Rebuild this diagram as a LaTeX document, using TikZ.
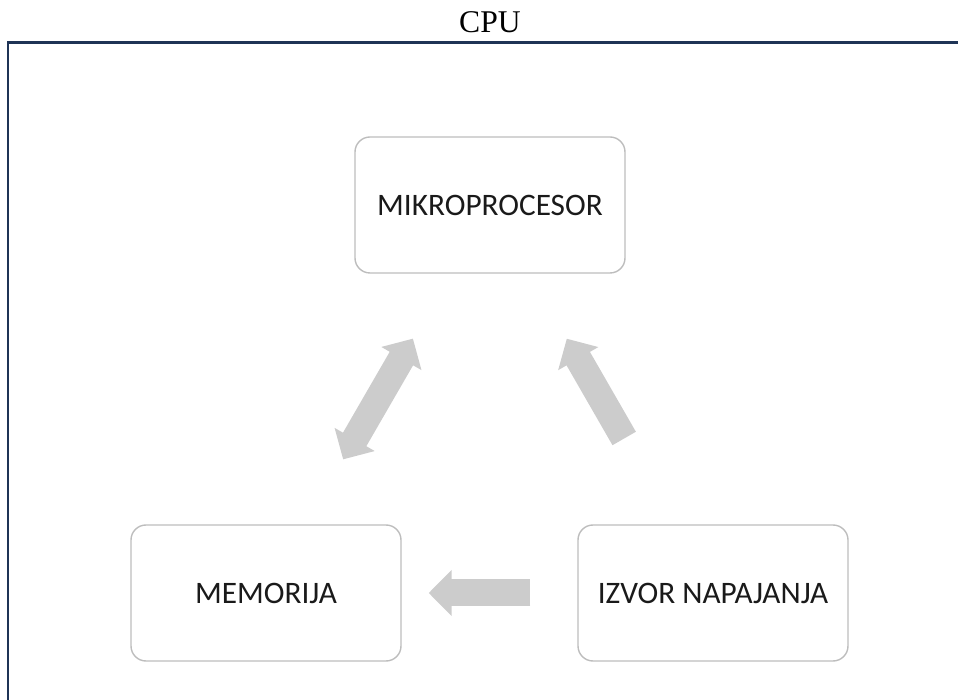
\documentclass[tikz,border=0pt]{standalone}
\usepackage{fontspec}
\usepackage{xcolor}
\usetikzlibrary{arrows.meta}
\setmainfont{Liberation Serif}
\newfontfamily\boxfont{Carlito}
\definecolor{cpuframe}{HTML}{1F3456}
\definecolor{cpuarrow}{HTML}{CCCCCC}
\definecolor{cpuborder}{HTML}{BDBDBD}
\definecolor{cputext}{HTML}{1A1A1A}

\begin{document}
\begin{tikzpicture}[
            part/.style={rectangle, rounded corners=0.3cm, draw=cpuborder, line width=0.8pt,
                minimum width=5.4cm, minimum height=2.72cm, text=cputext,
                font=\boxfont\fontsize{17.8}{20}\selectfont},
            bigarrow/.style={line width=0.54cm, cpuarrow},
            heading/.style={font=\fontsize{18}{20}\selectfont}
        ]
            \useasboundingbox (0,0) rectangle (19.16,14);
            \clip (0,0) rectangle (19.16,14);

            % Frame
            \draw[cpuframe, line width=1.7pt] (19.6,13.14) -- (0.16,13.14) -- (0.16,-0.5);
            \node[heading] (cpu) at (9.8,13.56) {CPU};

            % Parts
            \node[part] (mikro) at (9.8,9.9) {MIKROPROCESOR};
            \node[part] (mem) at (5.32,2.14) {MEMORIJA};
            \node[part] (izvor) at (14.26,2.14) {IZVOR NAPAJANJA};

            % Connections
            \draw[bigarrow, {Triangle[width=0.9cm, length=0.46cm]}-{Triangle[width=0.9cm, length=0.46cm]},
                shorten <=1.5cm, shorten >=1.5cm] (mem) -- (mikro);
            \draw[bigarrow, -{Triangle[width=0.9cm, length=0.46cm]},
                shorten <=1.98cm, shorten >=1.5cm] (izvor) -- (mikro);
            \draw[bigarrow, -{Triangle[width=0.9cm, length=0.46cm]},
                shorten <=0.94cm, shorten >=0.54cm] (izvor) -- (mem);
        \end{tikzpicture}
\end{document}
